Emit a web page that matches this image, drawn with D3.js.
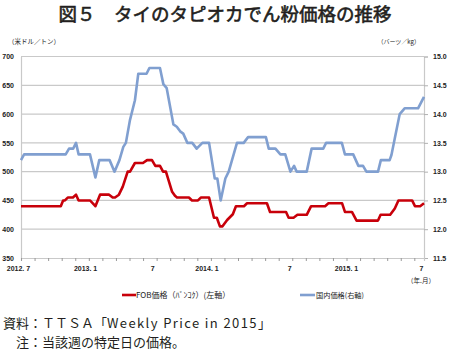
<!DOCTYPE html>
<html>
<head>
<meta charset="utf-8">
<script src="https://cdn.jsdelivr.net/npm/d3@7"></script>
<style>
  body { margin: 0; background: #fff; }
  svg { display: block; font-family: "Noto Sans CJK JP", "Noto Sans", sans-serif; }
</style>
</head>
<body>
<svg id="chart" width="450" height="352"></svg>
<script>
// 週番号(0 = 2012年7月第1週) と価格
var fobPoints = [
  [0, 440], [15.4, 440], [16.3, 450], [17, 450], [18.1, 455], [20.1, 455], [21.3, 460],
  [22.3, 450], [26.7, 450], [27.8, 445], [28.8, 440], [30.6, 460], [34.1, 460], [35.5, 455],
  [36.4, 455], [37.9, 460], [39.4, 474], [41.3, 500], [42.2, 500], [44.1, 515], [47.2, 515],
  [48.8, 520], [50.7, 520], [52, 510], [53.8, 510], [55, 500], [56.1, 500], [58.5, 465],
  [59.6, 458], [60.4, 455], [65, 455], [66.2, 450], [68.5, 450], [69.6, 455], [72.8, 455],
  [74.7, 420], [75.8, 420], [77, 405], [78, 405], [79.8, 416], [82, 426], [83.2, 440],
  [86.3, 440], [87.5, 445], [95.2, 445], [96.4, 430], [102.6, 430], [103.6, 420], [105.5, 420],
  [107, 425], [110.6, 425], [112.3, 440], [117.7, 440], [119, 445], [124.3, 445], [125.4, 430],
  [128.1, 430], [129.9, 415], [138.2, 415], [139.2, 425], [142.9, 425], [144.7, 436],
  [146.1, 450], [151.4, 450], [152.5, 440], [154.5, 440], [156, 445]
];
var domesticPoints = [
  [0, 13.2], [1.2, 13.3], [17.3, 13.3], [18.6, 13.4], [20.2, 13.4], [21.3, 13.5], [22.3, 13.3],
  [26.7, 13.3], [28.8, 12.9], [30.3, 13.2], [34.3, 13.2], [36.2, 13.0], [38.1, 13.2],
  [39.6, 13.43], [40.6, 13.5], [42.2, 13.9], [44.1, 14.24], [45.4, 14.7], [48.6, 14.7],
  [49.7, 14.8], [53.8, 14.8], [55.1, 14.52], [56.4, 14.45], [59, 13.82], [60.3, 13.78],
  [61.6, 13.7], [62.8, 13.66], [64.4, 13.5], [66.3, 13.5], [68, 13.4], [70.2, 13.5],
  [72.8, 13.5], [75, 12.88], [76, 12.88], [77.3, 12.5], [79.1, 12.88], [80.4, 13.0],
  [83.6, 13.5], [86.2, 13.5], [87.9, 13.6], [94.8, 13.6], [95.9, 13.4], [98.5, 13.4],
  [100.4, 13.3], [102.3, 13.3], [104.3, 13.0], [105.7, 13.1], [106.7, 13.0], [110.6, 13.0],
  [112.5, 13.4], [117, 13.4], [118.1, 13.5], [124.2, 13.5], [125.4, 13.3], [128.6, 13.3],
  [130.6, 13.1], [132.4, 13.1], [133.7, 13.0], [138.2, 13.0], [139.3, 13.2], [142.7, 13.2],
  [143.4, 13.29], [144.7, 13.58], [146.6, 14.0], [148.5, 14.1], [153.7, 14.1], [156, 14.3]
];
var leftTicks = [350, 400, 450, 500, 550, 600, 650, 700];
var rightTicks = [11.5, 12.0, 12.5, 13.0, 13.5, 14.0, 14.5, 15.0];
var xLabels = [
  { week: -1, text: "2012. 7" },
  { week: 25, text: "2013. 1" },
  { week: 51, text: "7" },
  { week: 72, text: "2014. 1" },
  { week: 104, text: "7" },
  { week: 126, text: "2015. 1" },
  { week: 155, text: "7" }
];

var svg = d3.select("#chart");
var plot = { left: 21, right: 424, top: 56.5, bottom: 258 };

var x = d3.scaleLinear().domain([0, 156]).range([plot.left, plot.right]);
var yLeft = d3.scaleLinear().domain([350, 700]).range([plot.bottom, plot.top]);
var yRight = d3.scaleLinear().domain([11.5, 15]).range([plot.bottom, plot.top]);

// タイトル
svg.append("text")
  .attr("x", 225).attr("y", 21)
  .attr("text-anchor", "middle")
  .attr("font-size", 18.5)
  .attr("fill", "#231f20")
  .attr("stroke", "#231f20")
  .attr("stroke-width", 0.6)
  .text("図５　タイのタピオカでん粉価格の推移");

// 単位
svg.append("text").attr("x", 8).attr("y", 44)
  .attr("font-size", 6.5).attr("fill", "#222")
  .text("（米ドル／トン）");
svg.append("text").attr("x", 420).attr("y", 44)
  .attr("text-anchor", "end")
  .attr("font-size", 6).attr("fill", "#222")
  .text("（バーツ／kg）");

// グリッド
svg.append("g")
  .selectAll("line")
  .data(leftTicks.slice(1))
  .join("line")
  .attr("x1", plot.left).attr("x2", plot.right)
  .attr("y1", d => yLeft(d)).attr("y2", d => yLeft(d))
  .attr("stroke", "#c9c9c9")
  .attr("stroke-width", 1.2);

// 左軸
var leftAxis = svg.append("g")
  .attr("transform", "translate(" + plot.left + ",0)")
  .call(d3.axisLeft(yLeft).tickValues(leftTicks).tickSize(0).tickPadding(7));
leftAxis.select(".domain").attr("stroke", "#c9c9c9").attr("stroke-width", 1.2);
leftAxis.selectAll("text").attr("font-size", 7).attr("font-weight", "bold")
  .attr("fill", "#222").attr("font-family", "Liberation Sans, Arial, sans-serif");

// 右軸
var rightAxis = svg.append("g")
  .attr("transform", "translate(" + plot.right + ",0)")
  .call(d3.axisRight(yRight).tickValues(rightTicks).tickSize(4).tickPadding(5)
    .tickFormat(d3.format(".1f")));
rightAxis.select(".domain").attr("stroke", "#c9c9c9").attr("stroke-width", 1.2);
rightAxis.selectAll("line").attr("stroke", "#b0b0b0");
rightAxis.selectAll("text").attr("font-size", 7).attr("font-weight", "bold")
  .attr("fill", "#222").attr("font-family", "Liberation Sans, Arial, sans-serif");

// 下軸
var bottomAxis = svg.append("g")
  .attr("transform", "translate(0," + plot.bottom + ")")
  .call(d3.axisBottom(x).tickValues(d3.range(0, 157, 5.25)).tickSize(3).tickFormat(""));
bottomAxis.select(".domain").attr("stroke", "#c9c9c9").attr("stroke-width", 1.2);
bottomAxis.selectAll("line").attr("stroke", "#9a9a9a");

svg.append("g")
  .selectAll("text")
  .data(xLabels)
  .join("text")
  .attr("x", d => x(d.week))
  .attr("y", 271)
  .attr("text-anchor", "middle")
  .attr("font-size", 7)
  .attr("font-weight", "bold")
  .attr("fill", "#222")
  .attr("font-family", "Liberation Sans, Arial, sans-serif")
  .text(d => d.text);
svg.append("text").attr("x", 421).attr("y", 283)
  .attr("text-anchor", "middle")
  .attr("font-size", 6.5).attr("fill", "#222")
  .text("（年.月）");

// 折れ線
var lineLeft = d3.line().x(d => x(d[0])).y(d => yLeft(d[1]));
var lineRight = d3.line().x(d => x(d[0])).y(d => yRight(d[1]));

svg.append("path")
  .datum(domesticPoints)
  .attr("d", lineRight)
  .attr("fill", "none")
  .attr("stroke", "#809fd0")
  .attr("stroke-width", 2.6)
  .attr("stroke-linejoin", "round");

svg.append("path")
  .datum(fobPoints)
  .attr("d", lineLeft)
  .attr("fill", "none")
  .attr("stroke", "#c8000a")
  .attr("stroke-width", 2.6)
  .attr("stroke-linejoin", "round");

// 凡例
var legend = svg.append("g").attr("fill", "#222");
legend.append("line").attr("x1", 122).attr("x2", 136).attr("y1", 295).attr("y2", 295)
  .attr("stroke", "#c8000a").attr("stroke-width", 2.6);
legend.append("text").attr("x", 136).attr("y", 298)
  .attr("font-size", 8)
  .text("FOB価格（ﾊﾞﾝｺｸ）(左軸）");
legend.append("line").attr("x1", 300).attr("x2", 315).attr("y1", 295).attr("y2", 295)
  .attr("stroke", "#809fd0").attr("stroke-width", 2.6);
legend.append("text").attr("x", 316).attr("y", 298)
  .attr("font-size", 7.2)
  .text("国内価格(右軸)");

// 資料・注
var source = svg.append("text").attr("x", 3).attr("y", 328)
  .attr("font-size", 13).attr("fill", "#231f20");
source.append("tspan").text("資料：ＴＴＳＡ「");
source.append("tspan").attr("letter-spacing", 1.4).text("Weekly Price in 2015");
source.append("tspan").text("」");
svg.append("text").attr("x", 16).attr("y", 347)
  .attr("font-size", 13).attr("fill", "#231f20")
  .text("注：当該週の特定日の価格。");
</script>
</body>
</html>
